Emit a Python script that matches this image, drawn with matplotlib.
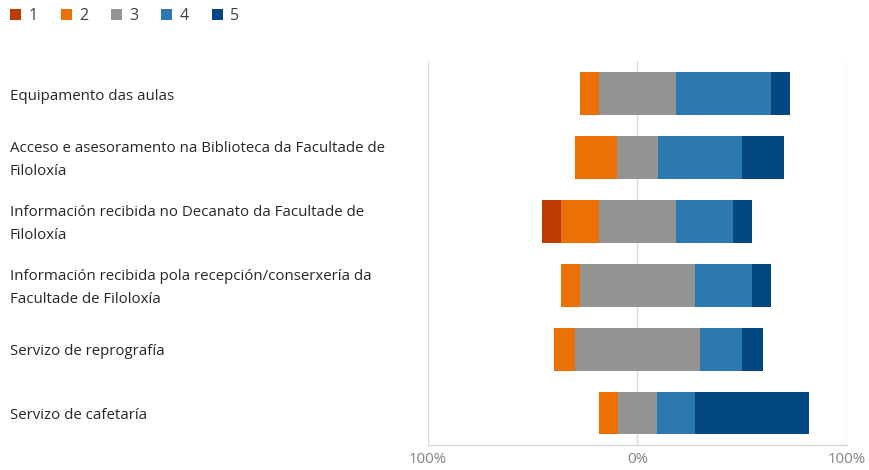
import matplotlib
matplotlib.use("Agg")
import matplotlib.pyplot as plt
from matplotlib.patches import Patch
import numpy as np

plt.rcParams['font.family'] = ['Open Sans', 'DejaVu Sans']

categories = [
    "Equipamento das aulas",
    "Acceso e asesoramento na Biblioteca da Facultade de\nFiloloxía",
    "Información recibida no Decanato da Facultade de\nFiloloxía",
    "Información recibida pola recepción/conserxería da\nFacultade de Filoloxía",
    "Servizo de reprografía",
    "Servizo de cafetaría",
]
series_names = ["1", "2", "3", "4", "5"]
s1 = [0, 0, 9.1, 0, 0, 0]
s2 = [9.1, 20, 18.2, 9.1, 10, 9.1]
s3 = [36.4, 20, 36.4, 54.5, 60, 18.2]
s4 = [45.5, 40, 27.3, 27.3, 20, 18.2]
s5 = [9.1, 20, 9.1, 9.1, 10, 54.5]
tick_values = [-100, 0, 100]
tick_labels = ["100%", "0%", "100%"]

colors = ['#BC3C04', '#EC7105', '#949494', '#2C79B1', '#034882']

fig = plt.figure(figsize=(8.7, 4.7), dpi=100)
ax = fig.add_axes([428/870, 1-445/470, (847-428)/870, (445-61.5)/470])

data = np.array([s1, s2, s3, s4, s5])
y = np.arange(len(categories))
left = -(data[0] + data[1] + data[2] / 2)
h = 0.67
for i in range(5):
    ax.barh(y, data[i], left=left, height=h, color=colors[i], zorder=3, linewidth=0)
    left = left + data[i]

ax.set_xlim(-100, 100)
ax.set_ylim(len(categories) - 0.5, -0.5)
ax.set_xticks(tick_values)
ax.set_xticklabels(tick_labels, color='#808080', fontsize=10.8)
ax.tick_params(axis='x', length=0, pad=5)
ax.set_yticks([])
ax.grid(axis='x', color='#D9D9D9', linewidth=1, zorder=0)
for s in ['top', 'left', 'right']:
    ax.spines[s].set_visible(False)
ax.spines['bottom'].set_color('#D9D9D9')
ax.spines['bottom'].set_linewidth(1)

trans = matplotlib.transforms.blended_transform_factory(fig.transFigure, ax.transData)
for yi, lab in zip(y, categories):
    ax.text(10/870, yi + 0.04, lab, transform=trans, ha='left', va='center',
            fontsize=10.85, color='#262626', linespacing=1.72)

handles = [Patch(facecolor=c, label=n) for c, n in zip(colors, series_names)]
fig.legend(handles=handles, loc='upper left', bbox_to_anchor=(-4/870, 1.005 + 4/470), ncol=5,
           frameon=False, fontsize=11.5, handlelength=0.68, handleheight=0.68,
           columnspacing=1.45, handletextpad=0.45, labelcolor='#404040')

fig.savefig("out.png", dpi=100)
